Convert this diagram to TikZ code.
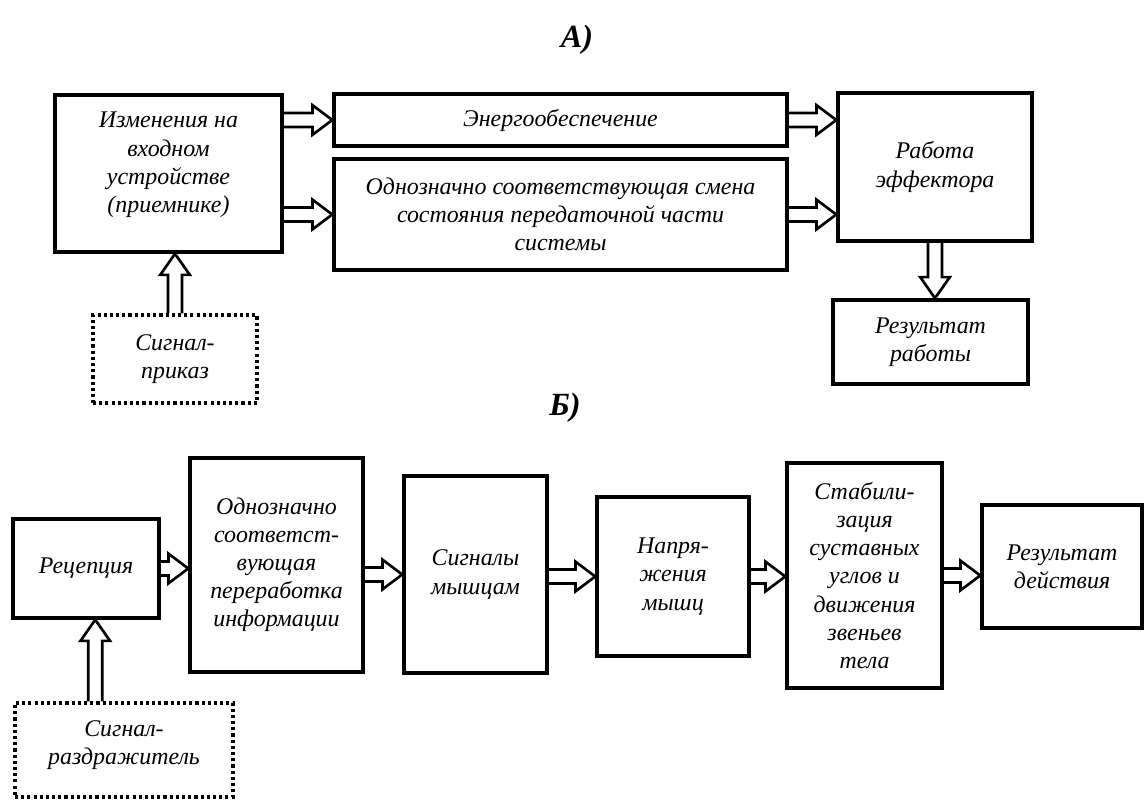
\documentclass[tikz,border=0pt]{standalone}
\usepackage{fontspec}
\setmainfont{Liberation Serif}
\usetikzlibrary{calc}

% hollow block arrows: right, up and down
\newcommand\fatR[2]{\draw[fat] let \p1=(#1), \p2=(#2) in
  (\x1,\y1+5pt) -- (\x2-14pt,\y1+5pt) -- (\x2-14pt,\y1+10.5pt) -- (\x2,\y1)
  -- (\x2-14pt,\y1-10.5pt) -- (\x2-14pt,\y1-5pt) -- (\x1,\y1-5pt);}
\newcommand\fatU[2]{\draw[fat] let \p1=(#1), \p2=(#2) in
  (\x1-5pt,\y1) -- (\x1-5pt,\y2-15pt) -- (\x1-10.5pt,\y2-15pt) -- (\x1,\y2)
  -- (\x1+10.5pt,\y2-15pt) -- (\x1+5pt,\y2-15pt) -- (\x1+5pt,\y1);}
\newcommand\fatD[2]{\draw[fat] let \p1=(#1), \p2=(#2) in
  (\x1-5pt,\y1) -- (\x1-5pt,\y2+15pt) -- (\x1-10.5pt,\y2+15pt) -- (\x1,\y2)
  -- (\x1+10.5pt,\y2+15pt) -- (\x1+5pt,\y2+15pt) -- (\x1+5pt,\y1);}

\tikzset{
  box/.style={draw, line width=2.5pt, rectangle, align=center, inner sep=2pt,
    font=\fontsize{17}{20}\selectfont\itshape},
  dotbox/.style={box, line width=2.2pt, dash pattern=on 2.2pt off 2.2pt},
  wh/.style 2 args={minimum width=#1*0.025cm, minimum height=#2*0.025cm},
  fat/.style={draw, line width=1.9pt, line join=miter},
  title/.style={font=\fontsize{23}{27}\selectfont\bfseries\itshape},
}

\begin{document}
\begin{tikzpicture}[x=0.025cm, y=-0.025cm]
\useasboundingbox (0,0) rectangle (1145,800);

% ---- part A
\node[title] (ta) at (577,40) {А)};
\node[box, wh={227}{157}] (ch) at (168.5,173.5)
  {Изменения на\\входном\\устройстве\\(приемнике)\\[-4pt]};
\node[box, wh={453}{52}] (en) at (560.5,120) {Энергообеспечение};
\node[box, wh={453}{111}] (st) at (560.5,214.5)
  {Однозначно соответствующая смена\\состояния передаточной части\\системы};
\node[box, wh={194}{148}] (ef) at (935,167) {Работа\\эффектора};
\node[box, wh={195}{84}] (rw) at (930.5,342) {Результат\\работы};
\node[dotbox, wh={164}{88}] (sg) at (175,359) {Сигнал-\\приказ};

\fatR{ch.east |- en.west}{en.west}
\fatR{ch.east |- st.west}{st.west}
\fatR{en.east}{en.east -| ef.west}
\fatR{st.east}{st.east -| ef.west}
\fatD{ef.south}{ef.south |- rw.north}
\fatU{sg.north}{sg.north |- ch.south}

% ---- part B
\node[title] (tb) at (565,408) {Б)};
\node[box, wh={146}{99}] (rc) at (86,568.5) {Рецепция};
\node[box, wh={173}{214}] (pr) at (276.5,565)
  {Однозначно\\соответст-\\вующая\\переработка\\информации};
\node[box, wh={143}{197}] (sm) at (475.5,574.5) {Сигналы\\мышцам};
\node[box, wh={152}{159}] (nm) at (673,576.5) {Напря-\\жения\\мышц};
\node[box, wh={155}{225}] (sb) at (864.5,575.5)
  {Стабили-\\зация\\суставных\\углов и\\движения\\звеньев\\тела};
\node[box, wh={160}{123}] (ra) at (1062,566.5) {Результат\\действия};
\node[dotbox, wh={218}{94}] (sr) at (124,750) {Сигнал-\\раздражитель\\[-10pt]};
\coordinate (srtop) at ($(sr.north west)!0.37!(sr.north east)$);

\fatR{rc.east}{rc.east -| pr.west}
\fatR{pr.east |- sm.west}{sm.west}
\fatR{sm.east |- nm.west}{nm.west}
\fatR{nm.east}{nm.east -| sb.west}
\fatR{sb.east}{sb.east -| ra.west}
\fatU{srtop}{srtop |- rc.south}
\end{tikzpicture}
\end{document}
